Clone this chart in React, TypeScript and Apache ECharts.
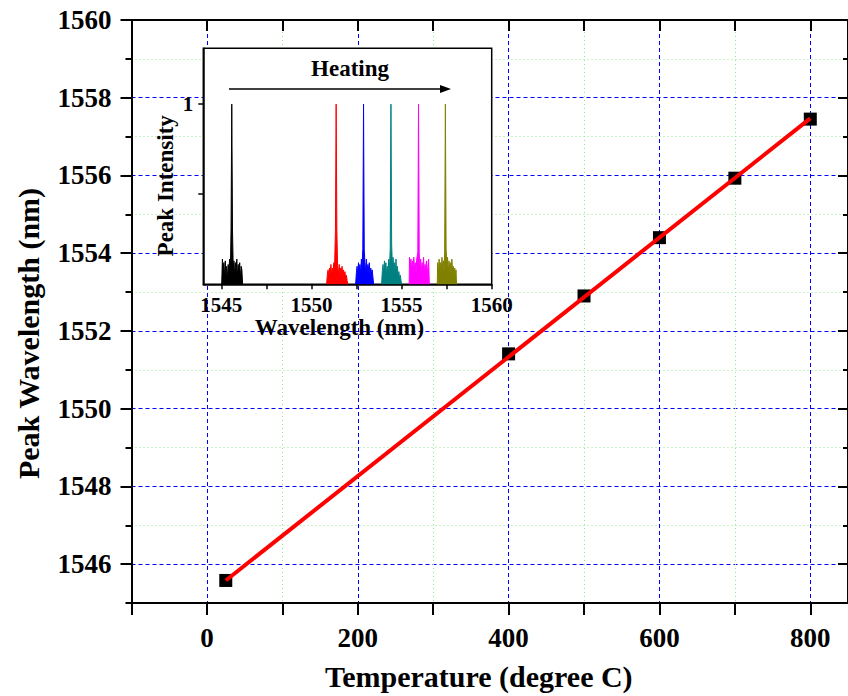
import { useEffect, useRef } from 'react';
import * as echarts from 'echarts';

// Main chart data
const temperatures = [25, 400, 500, 600, 700, 800];
const peakWavelengths = [1545.58, 1551.41, 1552.9, 1554.4, 1555.93, 1557.45];
const fitTemperatures = [25, 800];
const fitWavelengths = [1545.58, 1557.47];

// Main axis ticks
const xMajorTicks = [0, 200, 400, 600, 800];
const xMinorTicks = [-100, 100, 300, 500, 700];
const yMajorTicks = [1546, 1548, 1550, 1552, 1554, 1556, 1558, 1560];
const yMinorTicks = [1545, 1547, 1549, 1551, 1553, 1555, 1557, 1559];

// Inset axis ticks
const insetXLabels = [1545, 1550, 1555, 1560];
const insetXTicks = [1545, 1547.5, 1550, 1552.5, 1555, 1557.5, 1560];
const insetYLabels = [1];
const insetYTicks = [0.5, 1];

// Inset spectra: [wavelength (nm), intensity]
const spectrumBlack = [[1545.02,0],[1545.06,0.14],[1545.1,0.06],[1545.14,0.12],[1545.18,0.04],[1545.22,0.13],[1545.26,0.05],[1545.3,0.1],[1545.34,0.03],[1545.38,0.11],[1545.42,0.07],[1545.46,0.14],[1545.5,0.06],[1545.54,0.31],[1545.58,1.0],[1545.62,0.3],[1545.66,0.09],[1545.7,0.13],[1545.74,0.05],[1545.78,0.12],[1545.82,0.06],[1545.86,0.14],[1545.9,0.04],[1545.94,0.11],[1545.98,0.08],[1546.02,0.12],[1546.06,0.03],[1546.1,0.1],[1546.14,0.08],[1546.18,0]];
const spectrumRed = [[1550.84,0],[1550.88,0.05],[1550.92,0.08],[1550.96,0.04],[1551.0,0.09],[1551.04,0.06],[1551.08,0.11],[1551.12,0.05],[1551.16,0.09],[1551.2,0.07],[1551.24,0.12],[1551.28,0.08],[1551.33,0.3],[1551.37,1.0],[1551.41,0.3],[1551.45,0.1],[1551.5,0.06],[1551.54,0.11],[1551.58,0.05],[1551.62,0.09],[1551.66,0.07],[1551.7,0.1],[1551.74,0.04],[1551.78,0.08],[1551.82,0.05],[1551.86,0.07],[1551.9,0.03],[1551.94,0.05],[1551.98,0.02],[1552.02,0]];
const spectrumBlue = [[1552.45,0],[1552.49,0.06],[1552.53,0.1],[1552.57,0.05],[1552.61,0.12],[1552.65,0.07],[1552.69,0.11],[1552.73,0.06],[1552.77,0.14],[1552.81,0.1],[1552.85,0.2],[1552.89,1.0],[1552.93,0.19],[1552.97,0.12],[1553.01,0.07],[1553.05,0.14],[1553.09,0.06],[1553.13,0.11],[1553.17,0.08],[1553.21,0.12],[1553.25,0.05],[1553.29,0.09],[1553.33,0.06],[1553.37,0.08],[1553.41,0.04],[1553.45,0]];
const spectrumTeal = [[1553.89,0],[1553.93,0.07],[1553.97,0.11],[1554.01,0.05],[1554.05,0.13],[1554.09,0.08],[1554.13,0.12],[1554.17,0.05],[1554.21,0.1],[1554.25,0.07],[1554.29,0.14],[1554.33,0.09],[1554.37,0.2],[1554.41,1.0],[1554.45,0.22],[1554.49,0.1],[1554.53,0.15],[1554.57,0.07],[1554.61,0.12],[1554.65,0.06],[1554.69,0.14],[1554.73,0.05],[1554.77,0.1],[1554.81,0.04],[1554.85,0.07],[1554.89,0.03],[1554.93,0.05],[1554.97,0.02],[1555.0,0]];
const spectrumMagenta = [[1555.42,0],[1555.44,0.15],[1555.48,0.1],[1555.52,0.14],[1555.56,0.07],[1555.6,0.13],[1555.64,0.09],[1555.68,0.15],[1555.72,0.08],[1555.76,0.12],[1555.8,0.06],[1555.84,0.14],[1555.9,0.18],[1555.94,1.0],[1555.98,0.17],[1556.02,0.1],[1556.06,0.14],[1556.1,0.07],[1556.14,0.12],[1556.18,0.08],[1556.22,0.15],[1556.26,0.06],[1556.3,0.11],[1556.34,0.08],[1556.38,0.13],[1556.42,0.05],[1556.46,0.1],[1556.5,0.14],[1556.54,0]];
const spectrumOlive = [[1556.98,0],[1557.0,0.12],[1557.04,0.06],[1557.08,0.14],[1557.12,0.08],[1557.16,0.12],[1557.2,0.05],[1557.24,0.15],[1557.28,0.09],[1557.32,0.13],[1557.36,0.07],[1557.39,0.18],[1557.43,1.0],[1557.47,0.2],[1557.51,0.11],[1557.55,0.15],[1557.59,0.06],[1557.63,0.13],[1557.67,0.08],[1557.71,0.12],[1557.75,0.05],[1557.79,0.14],[1557.83,0.07],[1557.87,0.1],[1557.91,0.04],[1557.95,0.09],[1557.99,0.05],[1558.02,0.08],[1558.05,0]];
const spectra = [spectrumBlack, spectrumRed, spectrumBlue, spectrumTeal, spectrumMagenta, spectrumOlive];
const spectrumColors = ['#000000', '#ff0000', '#0000ff', '#008080', '#ff00ff', '#808000'];

const FONT = "'Liberation Serif', 'Times New Roman', Times, serif";
const black = '#000000';
const plain = (v: number) => String(v);

export default function App() {
  const ref = useRef<HTMLDivElement>(null);
  useEffect(() => {
    if (!ref.current) return;
    const chart = echarts.init(ref.current, undefined, { renderer: 'svg' });
    const axisLineStyle = { color: black, width: 2 };
    const txt = (size: number) => ({ fontSize: size, fontWeight: 'bold', fontFamily: FONT, color: black });
    const majorGrid = { show: true, lineStyle: { color: '#0000ff', width: 1, type: [4, 3] } };
    const minorGrid = { show: true, lineStyle: { color: '#8fe88f', width: 1, type: [1, 3] } };
    const xBase = { type: 'value', gridIndex: 0, min: -100, max: 850 };
    const yBase = { type: 'value', gridIndex: 0, min: 1545, max: 1560 };

    const option: any = {
      animation: false,
      backgroundColor: '#ffffff',
      grid: [
        { left: 131.5, top: 20, right: -5, bottom: 89 },
        { left: 203.3, top: 48.3, right: 356.3, bottom: 411.7, show: true, backgroundColor: '#ffffff', borderColor: black, borderWidth: 1.5, z: 10 },
      ],
      xAxis: [
        {
          ...xBase, position: 'bottom',
          axisLine: { show: true, onZero: false, lineStyle: axisLineStyle },
          axisTick: { show: true, length: 12, customValues: xMajorTicks, lineStyle: axisLineStyle },
          axisLabel: { show: true, customValues: xMajorTicks, formatter: plain, margin: 21, ...txt(27) },
          splitLine: majorGrid,
          name: 'Temperature (degree C)', nameLocation: 'middle', nameGap: 58,
          nameTextStyle: { ...txt(30), padding: [0, 22, 0, 0] },
        },
        {
          ...xBase, position: 'bottom',
          axisLine: { show: false, onZero: false },
          axisTick: { show: true, length: 12, customValues: xMinorTicks, lineStyle: axisLineStyle },
          axisLabel: { show: false },
          splitLine: minorGrid,
        },
        {
          ...xBase, position: 'top',
          axisLine: { show: true, onZero: false, lineStyle: axisLineStyle },
          axisTick: { show: true, inside: true, length: 11, customValues: [...xMinorTicks, ...xMajorTicks], lineStyle: axisLineStyle },
          axisLabel: { show: false },
          splitLine: { show: false },
        },
        {
          type: 'value', gridIndex: 1, min: 1544, max: 1560, position: 'bottom', z: 10,
          axisLine: { show: true, onZero: false, lineStyle: { color: black, width: 1.5 } },
          axisTick: { show: true, length: 5, customValues: insetXTicks, lineStyle: { color: black, width: 1.5 } },
          axisLabel: { show: true, customValues: insetXLabels, formatter: plain, margin: 10, ...txt(21) },
          splitLine: { show: false },
          name: 'Wavelength (nm)', nameLocation: 'middle', nameGap: 27,
          nameTextStyle: { ...txt(23), padding: [0, 16, 0, 0] },
        },
      ],
      yAxis: [
        {
          ...yBase, position: 'left',
          axisLine: { show: true, onZero: false, lineStyle: axisLineStyle },
          axisTick: { show: true, length: 11, customValues: yMajorTicks, lineStyle: axisLineStyle },
          axisLabel: { show: true, customValues: yMajorTicks, formatter: plain, margin: 20, ...txt(27) },
          splitLine: majorGrid,
          name: 'Peak Wavelength (nm)', nameLocation: 'middle', nameGap: 88,
          nameTextStyle: { ...txt(30), padding: [0, 44, 0, 0] },
        },
        {
          ...yBase, position: 'left',
          axisLine: { show: false, onZero: false },
          axisTick: { show: true, length: 6, customValues: yMinorTicks, lineStyle: axisLineStyle },
          axisLabel: { show: false },
          splitLine: minorGrid,
        },
        {
          ...yBase, position: 'right',
          axisLine: { show: true, onZero: false, lineStyle: axisLineStyle },
          axisTick: { show: true, inside: true, length: 10, customValues: yMajorTicks, lineStyle: axisLineStyle },
          axisLabel: { show: false },
          splitLine: { show: false },
        },
        {
          ...yBase, position: 'right',
          axisLine: { show: false, onZero: false },
          axisTick: { show: true, inside: true, length: 5, customValues: yMinorTicks, lineStyle: axisLineStyle },
          axisLabel: { show: false },
          splitLine: { show: false },
        },
        {
          type: 'value', gridIndex: 1, min: 0, max: 1.31, position: 'left', z: 10,
          axisLine: { show: true, onZero: false, lineStyle: { color: black, width: 1.5 } },
          axisTick: { show: true, length: 5, customValues: insetYTicks, lineStyle: { color: black, width: 1.5 } },
          axisLabel: { show: true, customValues: insetYLabels, formatter: plain, margin: 10, ...txt(21) },
          splitLine: { show: false },
          name: 'Peak Intensity', nameLocation: 'middle', nameGap: 26,
          nameTextStyle: { ...txt(23), padding: [0, 39, 0, 0] },
        },
      ],
      series: [
        {
          type: 'scatter', xAxisIndex: 0, yAxisIndex: 0, z: 2,
          data: temperatures.map((t, i) => [t, peakWavelengths[i]]),
          symbol: 'rect', symbolSize: 13,
          itemStyle: { color: black, opacity: 1 },
        },
        {
          type: 'line', xAxisIndex: 0, yAxisIndex: 0, z: 3,
          data: fitTemperatures.map((t, i) => [t, fitWavelengths[i]]),
          symbol: 'none',
          lineStyle: { color: '#ff0000', width: 4 },
        },
        ...spectra.map((s, i) => ({
          type: 'line', xAxisIndex: 3, yAxisIndex: 4, z: 11,
          data: s,
          symbol: 'none',
          lineStyle: { color: spectrumColors[i], width: 1 },
          areaStyle: { color: spectrumColors[i], opacity: 1 },
        })),
      ],
      graphic: [
        {
          type: 'text', x: 350, y: 68, z: 20,
          style: { text: 'Heating', align: 'center', verticalAlign: 'middle', fontSize: 23, fontWeight: 'bold', fontFamily: FONT, fill: black },
        },
        {
          type: 'line', z: 20,
          shape: { x1: 229, y1: 89, x2: 443, y2: 89 },
          style: { stroke: black, lineWidth: 1.5 },
        },
        {
          type: 'polygon', z: 20,
          shape: { points: [[440, 85], [451, 89], [440, 93]] },
          style: { fill: black },
        },
      ],
    };
    chart.setOption(option);
    return () => chart.dispose();
  }, []);
  return <div ref={ref} style={{ position: 'fixed', left: 0, top: 0, width: 848, height: 696 }} />;
}
